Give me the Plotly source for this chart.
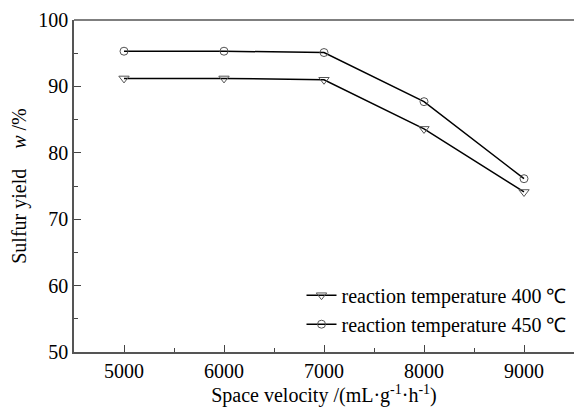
import plotly.graph_objects as go

space_velocity = [5000, 6000, 7000, 8000, 9000]
yield_400 = [91.2, 91.2, 91.0, 83.6, 74.1]
yield_450 = [95.3, 95.3, 95.1, 87.7, 76.1]
names = ["reaction temperature 400 ℃", "reaction temperature 450 ℃"]

FONT = "'Times New Roman', 'Liberation Serif', Times, serif"
tf = dict(family=FONT, size=20, color="black")

fig = go.Figure()
fig.add_trace(go.Scatter(
    x=space_velocity, y=yield_400, mode="lines+markers", name=names[0],
    line=dict(color="black", width=1.5),
    marker=dict(symbol="triangle-down-open", size=9, color="#555", line=dict(width=1))))
fig.add_trace(go.Scatter(
    x=space_velocity, y=yield_450, mode="lines+markers", name=names[1],
    line=dict(color="black", width=1.5),
    marker=dict(symbol="circle-open", size=8, color="#555", line=dict(width=1))))

fig.update_layout(
    width=575, height=410,
    margin=dict(l=74, r=1, t=20, b=58),
    plot_bgcolor="white", paper_bgcolor="white",
    font=dict(family=FONT, size=20, color="black"),
    showlegend=True,
    legend=dict(x=0.995, y=0.025, xanchor="right", yanchor="bottom",
                bgcolor="rgba(0,0,0,0)", font=dict(size=20, family=FONT),
                tracegroupgap=0, itemwidth=30),
    xaxis=dict(range=[4500, 9500], tickvals=space_velocity,
               tickfont=tf,
               ticks="inside", ticklen=7, tickcolor="#444",
               minor=dict(ticks="inside", ticklen=4, dtick=500, tickcolor="#444"),
               showline=True, linecolor="#555", linewidth=1.5, mirror=False,
               showgrid=False, zeroline=False,
               title=dict(text="Space velocity /(mL·g<sup>-1</sup>·h<sup>-1</sup>)",
                          standoff=4, font=tf)),
    yaxis=dict(range=[50, 100], dtick=10,
               tickfont=tf,
               ticks="inside", ticklen=7, tickcolor="#444",
               minor=dict(ticks="inside", ticklen=4, dtick=5, tickcolor="#444"),
               showline=True, linecolor="#555", linewidth=1.5,
               showgrid=False, zeroline=False,
               title=dict(text="Sulfur yield    <i>w</i> /%", standoff=6,
                          font=tf)),
)
# top border line without ticks
fig.add_shape(type="line", xref="paper", yref="paper", x0=0, x1=1, y0=1, y1=1,
              line=dict(color="#555", width=1.5))

fig.write_html("out.html")
